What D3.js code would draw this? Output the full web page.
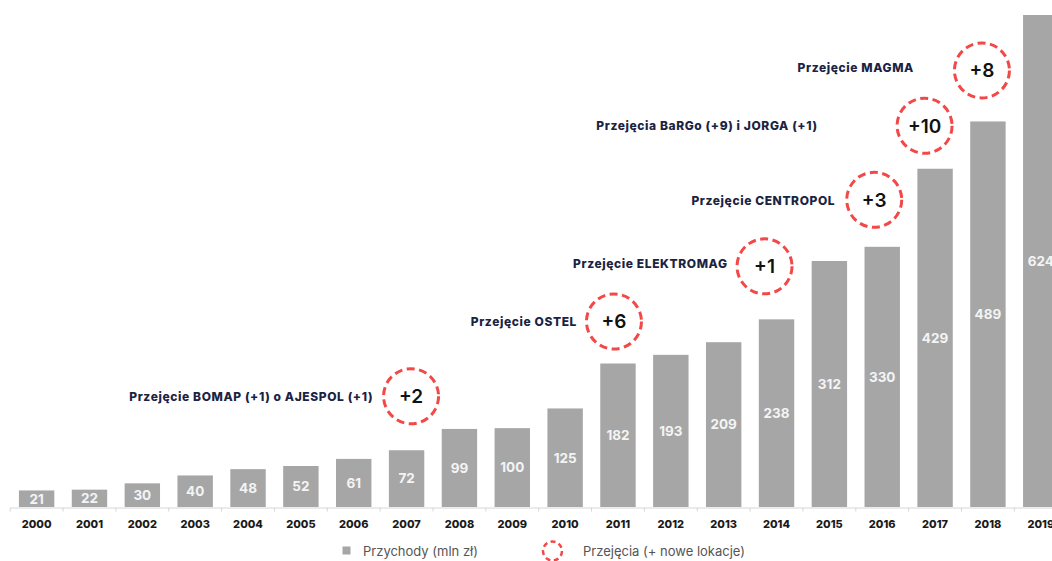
<!DOCTYPE html>
<html>
<head>
<meta charset="utf-8">
<script src="https://cdn.jsdelivr.net/npm/d3@7"></script>
<style>
  body { margin: 0; background: #fff; }
  svg { display: block; }
</style>
</head>
<body>
<div id="chart"></div>
<script>
// dane
var years = ['2000','2001','2002','2003','2004','2005','2006','2007','2008','2009',
             '2010','2011','2012','2013','2014','2015','2016','2017','2018','2019'];
var revenue = [21, 22, 30, 40, 48, 52, 61, 72, 99, 100,
               125, 182, 193, 209, 238, 312, 330, 429, 489, 624];

var acqYears  = ['2007', '2011', '2014', '2016', '2017', '2018'];
var acqCounts = ['+2', '+6', '+1', '+3', '+10', '+8'];
var acqLabels = ['Przejęcie BOMAP (+1) o AJESPOL (+1)', 'Przejęcie OSTEL', 'Przejęcie ELEKTROMAG',
                 'Przejęcie CENTROPOL', 'Przejęcia BaRGo (+9) i JORGA (+1)', 'Przejęcie MAGMA'];

var legendLabels = ['Przychody (mln zł)', 'Przejęcia (+ nowe lokacje)'];

// ręczne przesunięcia adnotacji (px) względem środka słupka / wierzchołka
var acqLayout = [
  {dx: 4.5, dy: 54, gap: 38, ly: 0},
  {dx: -4, dy: 42, gap: 37, ly: 0},
  {dx: -12, dy: 53, gap: 37, ly: -3},
  {dx: -8, dy: 47, gap: 39, ly: 1},
  {dx: -10.5, dy: 43, gap: 107, ly: 0},
  {dx: -6, dy: 51, gap: 68, ly: -3}
];

var width = 1052, height = 561;
var margin = {top: 15, left: 10.2, bottom: 54};
var baseline = height - margin.bottom; // 507

var svg = d3.select('#chart').append('svg')
  .attr('width', width)
  .attr('height', height)
  .style('overflow', 'hidden');

var xScale = d3.scaleBand()
  .domain(years)
  .range([margin.left, margin.left + 52.85 * years.length])
  .paddingInner(0.33)
  .paddingOuter(0.165);

var yScale = d3.scaleLinear()
  .domain([0, 624])
  .range([baseline, margin.top]);

var red = '#f24848';
var barColor = '#a6a6a6';

// oś X
var xAxis = d3.axisBottom(xScale).tickSize(0).tickPadding(13);
var gx = svg.append('g')
  .attr('class', 'x axis')
  .attr('transform', `translate(0,${baseline + 0.5})`)
  .call(xAxis);
gx.select('.domain').attr('stroke', '#d6d6d6').attr('stroke-width', 1);
gx.selectAll('text')
  .attr('fill', '#1a1a1a')
  .style('font-family', 'Inter, sans-serif')
  .style('font-weight', 800)
  .style('font-size', '11px');

// znaczniki między słupkami
var step = xScale.step();
var tickXs = d3.range(years.length + 1).map(i => margin.left + i * step);
gx.selectAll('.sep')
  .data(tickXs)
  .enter()
  .append('line')
  .attr('class', 'sep')
  .attr('x1', d => d).attr('x2', d => d)
  .attr('y1', 0).attr('y2', 4)
  .attr('stroke', '#d6d6d6');

// słupki
svg.selectAll('.bar')
  .data(revenue)
  .enter()
  .append('rect')
  .attr('class', 'bar')
  .attr('x', (d, i) => xScale(years[i]))
  .attr('y', d => yScale(d))
  .attr('width', xScale.bandwidth())
  .attr('height', d => baseline - yScale(d))
  .attr('fill', barColor);

svg.selectAll('.val')
  .data(revenue)
  .enter()
  .append('text')
  .attr('class', 'val')
  .attr('x', (d, i) => xScale(years[i]) + xScale.bandwidth() / 2)
  .attr('y', d => (yScale(d) + baseline) / 2)
  .attr('dy', '0.36em')
  .attr('text-anchor', 'middle')
  .attr('fill', '#f4f4f4')
  .style('font-family', 'Inter, sans-serif')
  .style('font-weight', 700)
  .style('font-size', '13.5px')
  .text(d => d);

// adnotacje
var acq = svg.selectAll('.acq')
  .data(acqYears)
  .enter()
  .append('g')
  .attr('class', 'acq')
  .attr('transform', (d, i) => {
    var cx = xScale(d) + xScale.bandwidth() / 2 + acqLayout[i].dx;
    var cy = yScale(revenue[years.indexOf(d)]) - acqLayout[i].dy;
    return `translate(${cx},${cy})`;
  });

acq.append('circle')
  .attr('r', 27.5)
  .attr('fill', 'none')
  .attr('stroke', red)
  .attr('stroke-width', 3)
  .attr('stroke-dasharray', '8 4.5');

acq.append('text')
  .attr('text-anchor', 'middle')
  .attr('dy', '0.36em')
  .attr('fill', '#111')
  .style('font-family', 'Inter, sans-serif')
  .style('font-weight', 600)
  .style('font-size', '19px')
  .text((d, i) => acqCounts[i]);

acq.append('text')
  .attr('x', (d, i) => -acqLayout[i].gap)
  .attr('y', (d, i) => acqLayout[i].ly)
  .attr('dy', '0.36em')
  .attr('text-anchor', 'end')
  .attr('fill', '#1b2343')
  .style('font-family', 'Inter, sans-serif')
  .style('font-weight', 800)
  .style('font-size', '12px')
  .style('letter-spacing', '0.6px')
  .text((d, i) => acqLabels[i]);

// legenda
var legend = svg.append('g').attr('class', 'legend')
  .attr('transform', `translate(0,551)`);

legend.append('rect')
  .attr('x', 342.5).attr('y', -4.5)
  .attr('width', 8).attr('height', 8)
  .attr('fill', barColor);
legend.append('text')
  .attr('x', 363).attr('dy', '0.36em')
  .attr('fill', '#555')
  .style('font-family', 'Inter, sans-serif')
  .style('font-size', '13px')
  .text(legendLabels[0]);

legend.append('circle')
  .attr('cx', 552.5).attr('r', 9.5)
  .attr('fill', 'none')
  .attr('stroke', red)
  .attr('stroke-width', 2.5)
  .attr('stroke-dasharray', '5 3.5');
legend.append('text')
  .attr('x', 583).attr('dy', '0.36em')
  .attr('fill', '#555')
  .style('font-family', 'Inter, sans-serif')
  .style('font-size', '13px')
  .text(legendLabels[1]);
</script>
</body>
</html>
